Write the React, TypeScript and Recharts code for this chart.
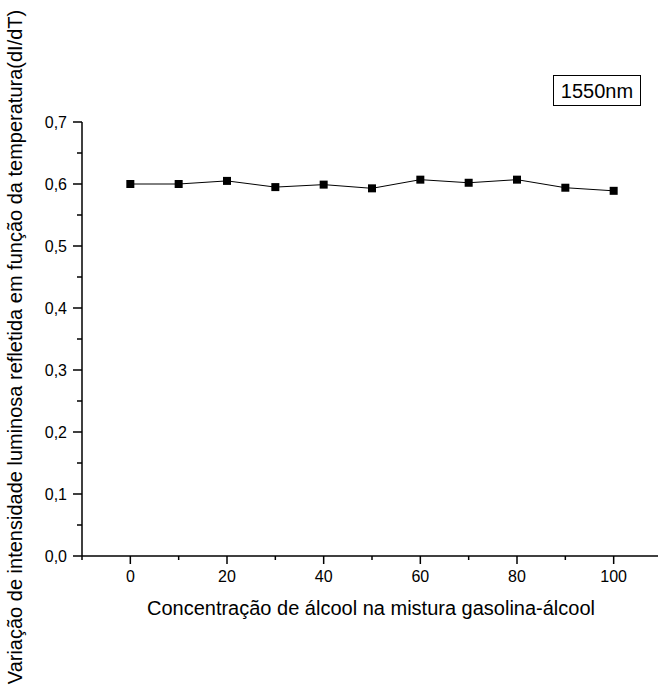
import { LineChart, Line, XAxis, YAxis, Customized } from 'recharts';

const concentrations = [0, 10, 20, 30, 40, 50, 60, 70, 80, 90, 100];
const dIdT = [0.6, 0.6, 0.605, 0.595, 0.599, 0.593, 0.607, 0.602, 0.607, 0.594, 0.589];
const xTicks = [-10, 0, 10, 20, 30, 40, 50, 60, 70, 80, 90, 100, 110];
const yTicks = [0, 0.05, 0.1, 0.15, 0.2, 0.25, 0.3, 0.35, 0.4, 0.45, 0.5, 0.55, 0.6, 0.65, 0.7];

const data = concentrations.map((c, i) => ({ c, v: dIdT[i] }));

const FONT = '"Liberation Sans", Arial, Helvetica, sans-serif';

const XTick = (props: any) => {
    const { x, y, payload } = props;
    const major = Math.round(payload.value) % 20 === 0;
    return (
        <g>
            <line x1={x} x2={x} y1={y} y2={y + (major ? 8 : 4)} stroke="#000" strokeWidth={1.5} />
            {major && (
                <text x={x} y={y + 26} textAnchor="middle" fontSize={16} fontFamily={FONT} fill="#000">
                    {payload.value}
                </text>
            )}
        </g>
    );
};

const YTick = (props: any) => {
    const { x, y, payload } = props;
    const major = Math.round(payload.value * 100) % 10 === 0;
    return (
        <g>
            <line x1={x - (major ? 9 : 5)} x2={x} y1={y} y2={y} stroke="#000" strokeWidth={1.5} />
            {major && (
                <text x={x - 15} y={y + 6} textAnchor="end" fontSize={16} fontFamily={FONT} fill="#000">
                    {payload.value.toFixed(1).replace('.', ',')}
                </text>
            )}
        </g>
    );
};

const SquareDot = (props: any) => {
    const { cx, cy } = props;
    return <rect x={cx - 4} y={cy - 4} width={8} height={8} fill="#000" />;
};

export default function App() {
    return (
        <div style={{ position: 'absolute', left: 0, top: 0, width: 658, height: 698, overflow: 'hidden', background: '#fff' }}>
            <LineChart width={662} height={698} data={data} margin={{ top: 122, right: 0, bottom: 0, left: 0 }}>
                <XAxis
                    dataKey="c"
                    type="number"
                    domain={[-10, 110]}
                    ticks={xTicks}
                    interval={0}
                    height={142}
                    tickSize={0}
                    tickMargin={0}
                    tickLine={false}
                    tick={<XTick />}
                    axisLine={{ stroke: '#000', strokeWidth: 1.5 }}
                />
                <YAxis
                    type="number"
                    domain={[0, 0.7]}
                    ticks={yTicks}
                    interval={0}
                    width={82}
                    tickSize={0}
                    tickMargin={0}
                    tickLine={false}
                    tick={<YTick />}
                    axisLine={{ stroke: '#000', strokeWidth: 1.5 }}
                />
                <Line
                    dataKey="v"
                    stroke="#000"
                    strokeWidth={1}
                    dot={<SquareDot />}
                    activeDot={false}
                    isAnimationActive={false}
                />
                <Customized
                    component={() => (
                        <g fontFamily={FONT} fill="#000">
                            <text x={371} y={615} textAnchor="middle" fontSize={20}>
                                Concentração de álcool na mistura gasolina-álcool
                            </text>
                            <text x={22} y={347} textAnchor="middle" fontSize={20} transform="rotate(-90 22 347)">
                                Variação de intensidade luminosa refletida em função da temperatura(dI/dT)
                            </text>
                            <rect x={553.5} y={75.5} width={87} height={30} fill="#fff" stroke="#000" strokeWidth={1} />
                            <text x={597} y={98} textAnchor="middle" fontSize={20}>
                                1550nm
                            </text>
                        </g>
                    )}
                />
            </LineChart>
        </div>
    );
}
